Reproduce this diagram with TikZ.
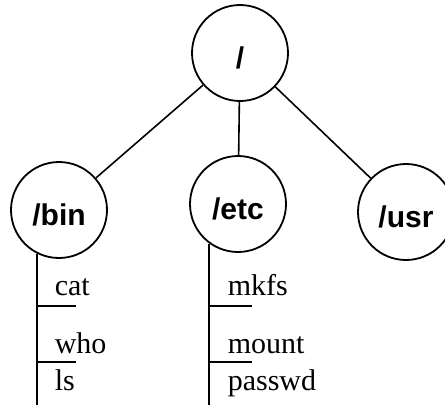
\documentclass[tikz,border=0pt]{standalone}
\usepackage{fontspec}
\setmainfont{Liberation Serif}
\setsansfont{Liberation Sans}

\begin{document}
\begin{tikzpicture}[x=1pt,y=-1pt,line width=1.6pt,
      dir node/.style={circle,draw,line width=1.8pt,minimum size=96pt,inner sep=0pt,
        text height=31pt,text depth=0pt,font=\sffamily\bfseries\fontsize{30}{30}\selectfont},
      file node/.style={anchor=base west,inner sep=0pt,font=\fontsize{30}{30}\selectfont}]
    \useasboundingbox (0,0) rectangle (445,405);
    \clip (0,0) rectangle (445,405);
    \node[dir node] (root) at (240,53) {/};
    \node[dir node] (bin) at (59,210) {/bin};
    \node[dir node] (etc) at (238,204) {/etc};
    \node[dir node] (usr) at (406,212) {/usr};
    \path (root) edge (bin)
    (root) edge (etc)
    (root) edge (usr);
    % file lists
    \coordinate (binend) at (37,405);
    \coordinate (etcend) at (210,405);
    \draw (bin.-117) -- (bin.-117 |- binend);
    \draw (etc.-126) -- (etc.-126 |- etcend);
    \foreach \f/\y in {cat/295,who/353,ls/390}
      \node[file node] (bin-\f) at (54,\y) {\f};
    \foreach \f/\y in {mkfs/295,mount/353,passwd/390}
      \node[file node] (etc-\f) at (227,\y) {\f};
    \foreach \y in {306,362} {
      \draw (binend |- 0,\y) -- ++(39,0);
      \draw (etcend |- 0,\y) -- ++(42,0);
    }
  \end{tikzpicture}
\end{document}
